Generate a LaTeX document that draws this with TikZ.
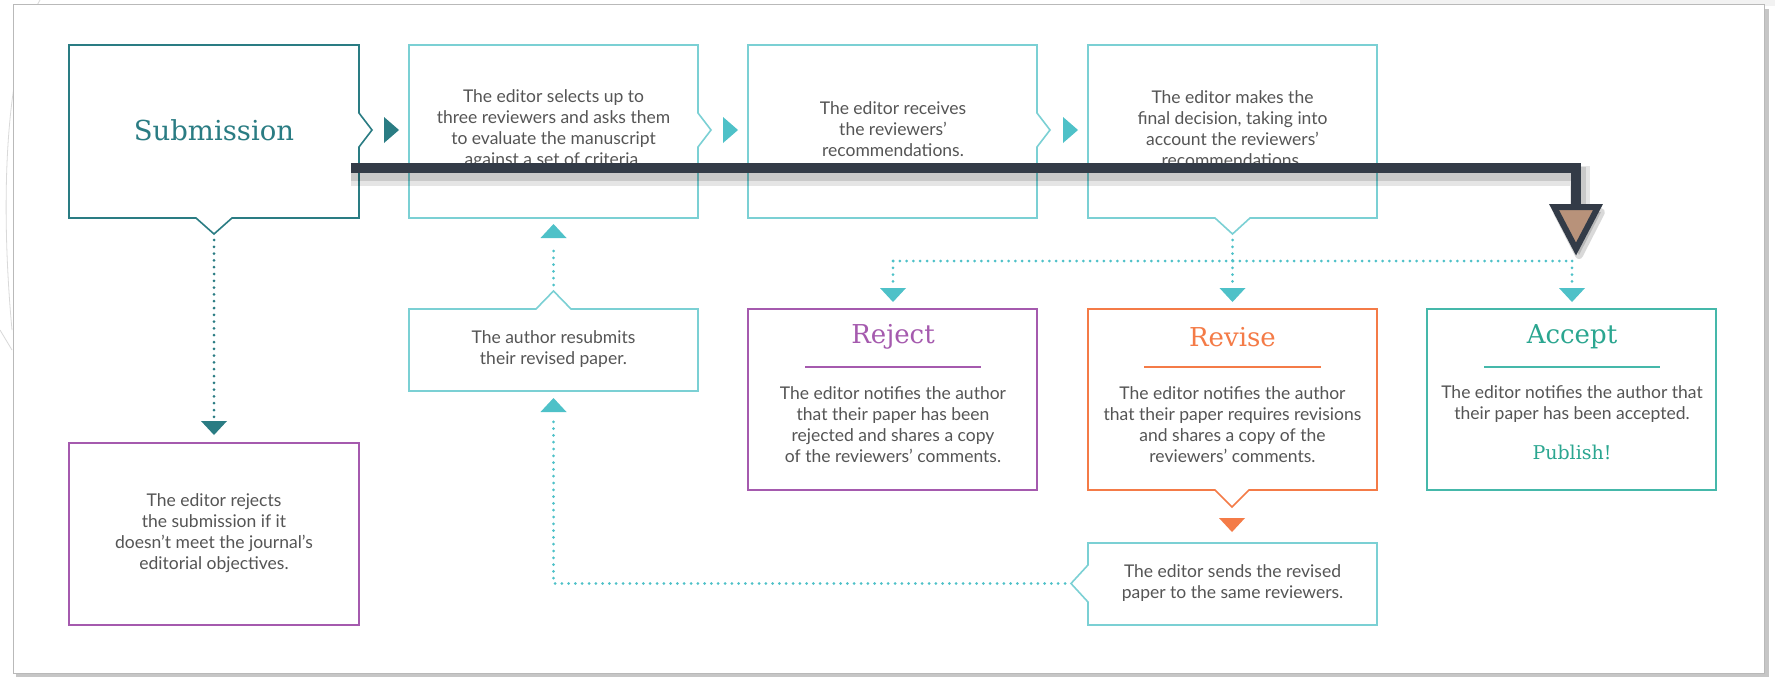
\documentclass[tikz,border=0pt]{standalone}
\usepackage{fontspec}
\setmainfont{Lato}
\newfontfamily\slab{DejaVu Serif}
\definecolor{dteal}{HTML}{2A7C83}
\definecolor{cyanb}{HTML}{7BD0D4}
\definecolor{cyanarr}{HTML}{4EC1C8}
\definecolor{purp}{HTML}{A55AAE}
\definecolor{orng}{HTML}{F47B47}
\definecolor{acc}{HTML}{45B8AA}
\definecolor{accT}{HTML}{2BA690}
\definecolor{txt}{HTML}{555555}
\definecolor{barc}{HTML}{333B47}
\definecolor{tanc}{HTML}{B8927A}
\newcommand\mytridown[3]{\fill[#1] (#2-13,#3) -- (#2+13,#3) -- (#2,#3+14) -- cycle;}
\newcommand\mytriup[3]{\fill[#1] (#2-13,#3) -- (#2+13,#3) -- (#2,#3-14) -- cycle;}
\newcommand\mytriright[3]{\fill[#1] (#2,#3-13) -- (#2+15,#3) -- (#2,#3+13) -- cycle;}
\begin{document}
\begin{tikzpicture}[x=1pt,y=-1pt,
  frame/.style={line width=1.6pt, line join=miter},
  body/.style={text=txt, font=\fontsize{17.5}{21}\selectfont, align=center, inner sep=0pt},
  ttl/.style={font=\slab\fontsize{26}{30}\selectfont, inner sep=0pt},
  dots/.style={line width=3pt, line cap=round, dash pattern=on 0pt off 6.8pt},
  uline/.style={line width=2pt},
]
\useasboundingbox (0,0) rectangle (1775,677);
% background
\fill[white] (0,0) rectangle (1775,677);
\fill[gray!10] (1300,0) rectangle (1775,6);
\draw[gray!30, line width=0.8pt] (40,0) .. controls (5,60) and (0,200) .. (12,330);
\draw[gray!30, line width=0.8pt] (0,330) -- (12,350);
% panel
\fill[gray!45] (16,9) rectangle (1769,677);
\fill[white] (13,5) rectangle (1764,673);
\draw[gray!55, line width=1pt] (13,5) rectangle (1764,673);

% ---------- row 1 boxes ----------
\draw[frame, dteal] (69,45) -- (359,45) -- (359,113) -- (372,130) -- (359,147) -- (359,218) -- (232,218) -- (214,234) -- (196,218) -- (69,218) -- cycle;
\node[ttl, text=dteal, font=\slab\fontsize{27.5}{30}\selectfont] (S) at (214,130) {Submission};
\mytriright{dteal}{384}{130}

\draw[frame, cyanb] (409,45) -- (698,45) -- (698,113) -- (711,130) -- (698,147) -- (698,218) -- (409,218) -- cycle;
\node[body] (B2) at (553.5,129) {The editor selects up to\\three reviewers and asks them\\to evaluate the manuscript\\against a set of criteria.};
\mytriright{cyanarr}{723}{130}

\draw[frame, cyanb] (748,45) -- (1037,45) -- (1037,113) -- (1050,130) -- (1037,147) -- (1037,218) -- (748,218) -- cycle;
\node[body] (B3) at (893,129.5) {The editor receives\\the reviewers'\\recommendations.};
\mytriright{cyanarr}{1063}{130}

\draw[frame, cyanb] (1088,45) -- (1377,45) -- (1377,218) -- (1250,218) -- (1232.5,234) -- (1215,218) -- (1088,218) -- cycle;
\node[body] (B4) at (1232.5,129) {The editor makes the\\final decision, taking into\\account the reviewers'\\recommendations.};

% ---------- row 2 boxes ----------
\draw[frame, cyanb] (409,309) -- (536,309) -- (553.5,291) -- (571,309) -- (698,309) -- (698,391) -- (409,391) -- cycle;
\node[body] (RS) at (553.5,349.5) {The author resubmits\\their revised paper.};

\draw[frame, purp] (748,309) rectangle (1037,490);
\node[ttl, text=purp] (RJ) at (893,337) {Reject};
\draw[uline, purp] (805,367) -- (981,367);
\node[body] (RJb) at (893,425) {The editor notifies the author\\that their paper has been\\rejected and shares a copy\\of the reviewers' comments.};

\draw[frame, orng] (1088,309) -- (1377,309) -- (1377,490) -- (1249,490) -- (1232,507) -- (1215,490) -- (1088,490) -- cycle;
\node[ttl, text=orng] (RV) at (1232.5,337) {Revise};
\draw[uline, orng] (1144,367) -- (1321,367);
\node[body] (RVb) at (1232.5,425) {The editor notifies the author\\that their paper requires revisions\\and shares a copy of the\\reviewers' comments.};

\draw[frame, acc] (1427,309) rectangle (1716,490);
\node[ttl, text=accT] (AC) at (1572,337) {Accept};
\draw[uline, acc] (1484,367) -- (1660,367);
\node[body] (ACb) at (1572,404.5) {The editor notifies the author that\\their paper has been accepted.};
\node[font=\slab\fontsize{19}{22}\selectfont, text=accT, inner sep=0pt] (PB) at (1572,452) {Publish!};

% ---------- row 3 boxes ----------
\draw[frame, purp] (69,443) rectangle (359,625);
\node[body] (ER) at (214,533.5) {The editor rejects\\the submission if it\\doesn't meet the journal's\\editorial objectives.};

\draw[frame, cyanb] (1088,543) -- (1377,543) -- (1377,625) -- (1088,625) -- (1088,602) -- (1071,583.5) -- (1088,565) -- cycle;
\node[body] (SN) at (1232.5,583) {The editor sends the revised\\paper to the same reviewers.};

% ---------- dotted connectors ----------
\coordinate (s1) at (214,240);
\coordinate (s2) at (214,418);
\draw[dots, dteal] (s1) -- (s2);
\mytridown{dteal}{214}{421}

\coordinate (d0) at (1232.5,240);
\coordinate (dM) at (1232.5,261);
\coordinate (dL) at (893,261);
\coordinate (dR) at (1572,261);
\coordinate (aL) at (893,283);
\coordinate (aM) at (1232.5,283);
\coordinate (aR) at (1572,283);
\draw[dots, cyanarr] (d0) -- (dM);
\draw[dots, cyanarr] (dL) -- (dR);
\draw[dots, cyanarr] (dL) -- (aL);
\draw[dots, cyanarr] (dM) -- (aM);
\draw[dots, cyanarr] (dR) -- (aR);
\mytridown{cyanarr}{893}{288}
\mytridown{cyanarr}{1232.5}{288}
\mytridown{cyanarr}{1572}{288}

\coordinate (r1) at (553.5,285);
\coordinate (r2) at (553.5,245);
\draw[dots, cyanarr] (r1) -- (r2);
\mytriup{cyanarr}{553.5}{238}

\mytridown{orng}{1232}{518}

\coordinate (b1) at (1065,583.5);
\coordinate (b2) at (553.5,583.5);
\coordinate (b3) at (553.5,419);
\draw[dots, cyanarr] (b1) -- (b2) -- (b3);
\mytriup{cyanarr}{553.5}{412}

% ---------- overlay bar ----------
\coordinate (o1) at (351,168);
\coordinate (o2) at (1576,168);
\coordinate (o3) at (1576,207);
\draw[black, opacity=0.12, line width=14pt] ([yshift=-6pt]o1) -- ([xshift=3pt,yshift=-6pt]o2) -- ([xshift=3pt]o3);
\draw[black, opacity=0.10, line width=20pt] ([yshift=-8pt]o1) -- ([xshift=4pt,yshift=-8pt]o2) -- ([xshift=4pt]o3);
\draw[barc, line width=10pt, line join=miter] (o1) -- (o2) -- (o3);
\filldraw[black, opacity=0.15, line width=8pt, line join=round] (1557,212) -- (1601,212) -- (1579,255) -- cycle;
\filldraw[fill=tanc, draw=barc, line width=6pt, line join=miter] (1554,207) -- (1598,207) -- (1576,249) -- cycle;
\end{tikzpicture}
\end{document}
